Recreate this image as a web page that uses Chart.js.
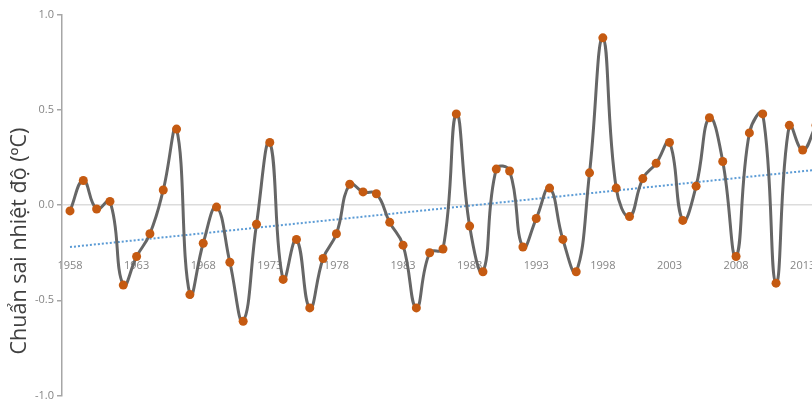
<!DOCTYPE html>
<html>
<head>
<meta charset="utf-8">
<script src="https://cdn.jsdelivr.net/npm/chart.js@4/dist/chart.umd.min.js"></script>
<style>
  html, body { margin: 0; padding: 0; background: #ffffff; }
  #wrap { width: 812px; height: 405px; position: relative; }
</style>
</head>
<body>
<div id="wrap"><canvas id="chart"></canvas></div>
<script>
// ------------------------------------------------------------
//  Daten
// ------------------------------------------------------------
const YEARS = [
  1958, 1959, 1960, 1961, 1962, 1963, 1964, 1965, 1966, 1967,
  1968, 1969, 1970, 1971, 1972, 1973, 1974, 1975, 1976, 1977,
  1978, 1979, 1980, 1981, 1982, 1983, 1984, 1985, 1986, 1987,
  1988, 1989, 1990, 1991, 1992, 1993, 1994, 1995, 1996, 1997,
  1998, 1999, 2000, 2001, 2002, 2003, 2004, 2005, 2006, 2007,
  2008, 2009, 2010, 2011, 2012, 2013, 2014
];
const ANOMALY = [
  -0.03,  0.13, -0.02,  0.02, -0.42, -0.27, -0.15,  0.08,  0.40, -0.47,
  -0.20, -0.01, -0.30, -0.61, -0.10,  0.33, -0.39, -0.18, -0.54, -0.28,
  -0.15,  0.11,  0.07,  0.06, -0.09, -0.21, -0.54, -0.25, -0.23,  0.48,
  -0.11, -0.35,  0.19,  0.18, -0.22, -0.07,  0.09, -0.18, -0.35,  0.17,
   0.88,  0.09, -0.06,  0.14,  0.22,  0.33, -0.08,  0.10,  0.46,  0.23,
  -0.27,  0.38,  0.48, -0.41,  0.42,  0.29,  0.42
];
// Trendlinie: Endpunkte
const TREND_YEARS  = [1958, 2014];
const TREND_VALUES = [-0.22, 0.186];

const X_TICKS = [1958, 1963, 1968, 1973, 1978, 1983, 1988, 1993, 1998, 2003, 2008, 2013];
const Y_TICKS = [-1.0, -0.5, 0.0, 0.5, 1.0];

const Y_TITLE = 'Chuẩn sai nhiệt độ (ºC)';

// Farben
const COLORS = {
  line:   '#666666',
  point:  '#C55A11',
  trend:  '#5B9BD5',
  axis:   '#a6a6a6',
  zero:   '#dcdcdc',
  tick:   '#858585',
  title:  '#404040'
};

// ------------------------------------------------------------
//  Achsentitel (links, etwas unterhalb der Mitte)
// ------------------------------------------------------------
const yTitlePlugin = {
  id: 'yTitle',
  afterDraw(chart) {
    const ctx = chart.ctx;
    ctx.save();
    ctx.translate(20, 241);
    ctx.rotate(-Math.PI / 2);
    ctx.font = '21.5px "Open Sans"';
    ctx.fillStyle = COLORS.title;
    ctx.textAlign = 'center';
    ctx.textBaseline = 'middle';
    ctx.fillText(Y_TITLE, 0, 0);
    ctx.restore();
  }
};

new Chart(document.getElementById('chart'), {
  type: 'line',
  data: {
    datasets: [
      {
        label: 'Chuẩn sai',
        data: YEARS.map((x, i) => ({ x, y: ANOMALY[i] })),
        borderColor: COLORS.line,
        borderWidth: 3,
        tension: 0.45,
        pointRadius: 4.5,
        pointBackgroundColor: COLORS.point,
        pointBorderColor: COLORS.point,
        pointBorderWidth: 0
      },
      {
        label: 'Trend',
        data: TREND_YEARS.map((x, i) => ({ x, y: TREND_VALUES[i] })),
        borderColor: COLORS.trend,
        borderWidth: 2,
        borderDash: [2, 2],
        pointRadius: 0,
        tension: 0
      }
    ]
  },
  options: {
    responsive: true,
    maintainAspectRatio: false,
    animation: false,
    layout: { autoPadding: false, padding: { top: 15, bottom: 7, left: 0, right: 0 } },
    plugins: {
      legend: { display: false },
      tooltip: { enabled: false }
    },
    scales: {
      x: {
        type: 'linear',
        position: { y: -0.285 },
        min: 1957.4,
        max: 2013.7,
        afterBuildTicks: s => { s.ticks = X_TICKS.map(v => ({ value: v })); },
        afterFit: s => { s.paddingLeft = 0; s.paddingRight = 0; },
        grid: { display: false, drawTicks: false },
        border: { display: false },
        ticks: {
          padding: 0,
          maxRotation: 0,
          autoSkip: false,
          color: COLORS.tick,
          font: { family: 'Open Sans', size: 11 },
          callback: v => String(v)
        }
      },
      y: {
        min: -1,
        max: 1,
        afterBuildTicks: s => { s.ticks = Y_TICKS.map(v => ({ value: v })); },
        afterFit: s => { s.width = 62; },
        grid: {
          color: c => (c.tick && c.tick.value === 0) ? COLORS.zero : 'rgba(0,0,0,0)',
          lineWidth: 1.5,
          tickColor: COLORS.axis,
          tickLength: 5
        },
        border: { display: true, color: COLORS.axis, width: 1.5 },
        ticks: {
          padding: 3,
          color: COLORS.tick,
          font: { family: 'Open Sans', size: 11 },
          callback: v => v.toFixed(1)
        }
      }
    }
  },
  plugins: [yTitlePlugin]
});
</script>
</body>
</html>
